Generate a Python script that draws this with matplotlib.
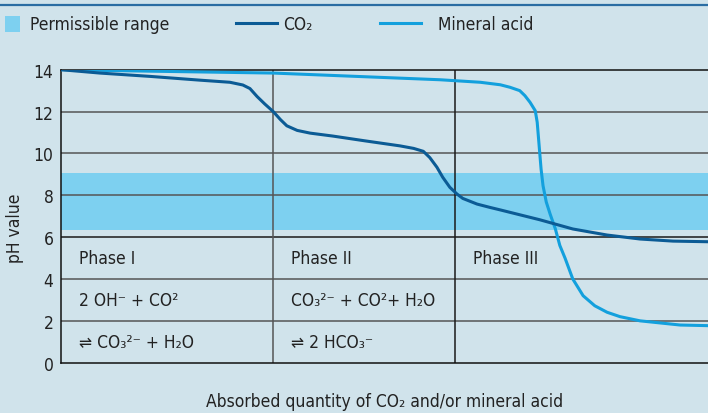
import numpy as np
import matplotlib
matplotlib.use("Agg")
import matplotlib.pyplot as plt
from matplotlib import font_manager as fm
from matplotlib.lines import Line2D
from matplotlib.patches import Rectangle

# use the condensed DejaVu cut if it is installed, the reference font is narrow
cond = 'Condensed' in fm.findfont(fm.FontProperties(family='DejaVu Sans', stretch='condensed'))
plt.rcParams['font.family'] = ['DejaVu Sans']
if cond:
    plt.rcParams['font.stretch'] = 'condensed'
FS = 12.5 if cond else 11.5

# absorbed quantity (arbitrary units 0-100) vs pH
co2_x = [0, 6.0, 13.8, 21.5, 26.1, 28.1, 29.2, 30.3, 31.5, 32.8, 33.9, 34.9,
         36.5, 38.5, 42.0, 47.0, 52.4, 54.5, 56.0, 57.0, 58.1, 59.0, 60.1,
         61.2, 62.1, 64.3, 66.3, 67.9, 74.0, 79.1, 84.4, 89.5, 94.6, 100]
co2_ph = [14, 13.84, 13.68, 13.5, 13.4, 13.27, 13.1, 12.72, 12.36, 12.0,
          11.62, 11.32, 11.1, 10.97, 10.83, 10.6, 10.36, 10.24, 10.1, 9.8,
          9.34, 8.86, 8.38, 8.06, 7.85, 7.58, 7.42, 7.3, 6.83, 6.39, 6.1,
          5.91, 5.81, 5.78]

acid_x = [0, 13.8, 32.8, 58.6, 64.8, 67.9, 69.4, 70.9, 71.7, 72.5, 73.3, 73.6,
          73.9, 74.2, 74.5, 75.0, 75.6, 76.4, 77.1, 77.9, 79.1, 80.7, 82.5,
          84.4, 86.4, 89.5, 95.7, 100]
acid_ph = [14, 13.93, 13.84, 13.52, 13.4, 13.28, 13.16, 13.0, 12.76, 12.44,
           12.04, 11.49, 10.37, 9.25, 8.46, 7.68, 7.1, 6.4, 5.6, 5.0, 4.0,
           3.2, 2.72, 2.41, 2.2, 2.0, 1.8, 1.77]

range_lo, range_hi = 6.35, 9.05
phase_bounds = [32.8, 60.9]
phase_names = ["Phase I", "Phase II", "Phase III"]
phase_start = [0, 32.8, 60.9]
reaction_1 = ["2 OH⁻ + CO²", "CO₃²⁻ + CO²+ H₂O", ""]
reaction_2 = ["⇌ CO₃²⁻ + H₂O", "⇌ 2 HCO₃⁻", ""]

bg = '#d0e3eb'
c_co2 = '#0b5b95'
c_acid = '#13a0dd'
c_band = '#7dd0f0'
txt = '#222222'

fig = plt.figure(figsize=(7.08, 4.14), dpi=100, facecolor=bg)
ax = fig.add_axes([0.0862, 0.1215, 0.9138, 0.7077])
ax.set_facecolor(bg)

ax.axhspan(range_lo, range_hi, color=c_band, lw=0, zorder=1)
for y in [2, 4, 8, 10, 12]:
    ax.axhline(y, color='#555555', lw=1.1, zorder=2)
ax.axhline(6, color='#1a1a1a', lw=1.1, zorder=2)
ax.axvline(phase_bounds[0], color='#555555', lw=1.1, zorder=2)
ax.axvline(phase_bounds[1], color='#1a1a1a', lw=1.1, zorder=2)

ax.plot(co2_x, co2_ph, color=c_co2, lw=2.2, zorder=4, solid_joinstyle='round')
ax.plot(acid_x, acid_ph, color=c_acid, lw=2.2, zorder=3, solid_joinstyle='round')

for x0, name, r1, r2 in zip(phase_start, phase_names, reaction_1, reaction_2):
    ax.text(x0 + 2.8, 5, name, fontsize=FS, va='center', color=txt)
    ax.text(x0 + 2.8, 3, r1, fontsize=FS, va='center', color=txt)
    ax.text(x0 + 2.8, 1, r2, fontsize=FS, va='center', color=txt)

ax.set_xlim(0, 100)
ax.set_ylim(0, 14)
ax.set_yticks(range(0, 15, 2))
ax.set_xticks([])
ax.tick_params(axis='y', length=0, pad=5.5, labelsize=FS, labelcolor=txt)
for s in ['left', 'bottom', 'top']:
    ax.spines[s].set_color('#111111')
    ax.spines[s].set_linewidth(1.1)
ax.spines['right'].set_visible(False)

ax.set_xlabel("Absorbed quantity of CO₂ and/or mineral acid", fontsize=FS,
              labelpad=21, color=txt)
fig.text(15 / 708, 1 - 228 / 414, "pH value", rotation=90, fontsize=FS,
         ha='center', va='center', color=txt)

# header rule and legend
fig.add_artist(Line2D([0, 1], [1 - 5.7 / 414] * 2, color='#2a6da3', lw=1.6))
ly = 1 - 24.5 / 414
fig.add_artist(Rectangle((4.5 / 708, 1 - 32.5 / 414), 15 / 708, 16 / 414,
                         color=c_band, lw=0))
fig.text(30.5 / 708, ly, "Permissible range", fontsize=FS, va='center', color=txt)
fig.add_artist(Line2D([236 / 708, 277 / 708], [ly + 0.5 / 414] * 2, color=c_co2, lw=2.2))
fig.text(283 / 708, ly, "CO₂", fontsize=FS, va='center', color=txt)
fig.add_artist(Line2D([380 / 708, 421 / 708], [ly + 0.5 / 414] * 2, color=c_acid, lw=2.2))
fig.text(438 / 708, ly, "Mineral acid", fontsize=FS, va='center', color=txt)

fig.savefig("out.png", dpi=100, facecolor=bg)
